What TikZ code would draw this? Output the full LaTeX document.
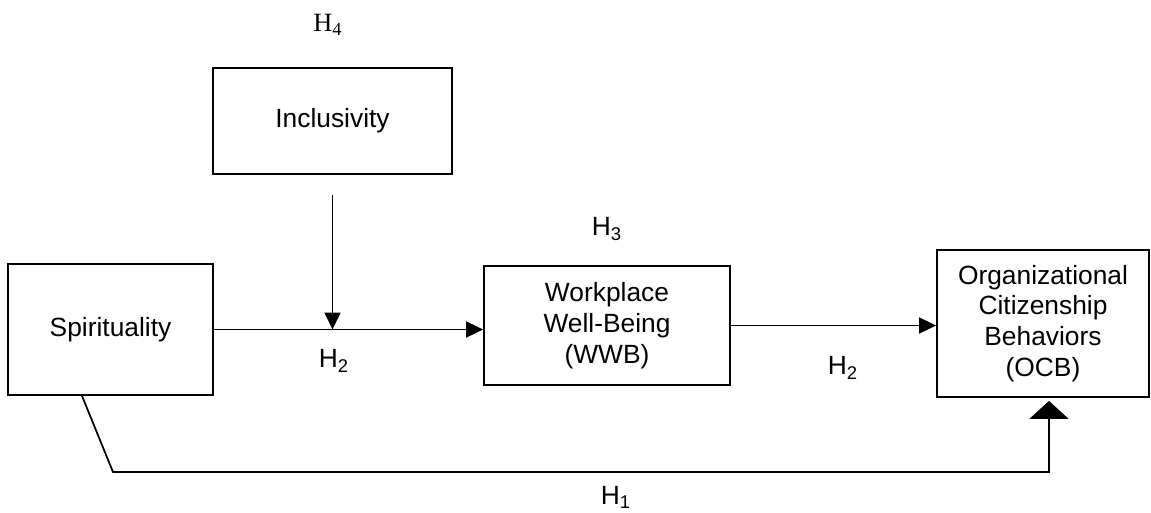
\documentclass[tikz,border=0pt]{standalone}
\usepackage{fontspec}
\setmainfont{Liberation Sans}
\newfontfamily\hfourfont{Liberation Serif}
\usepackage{tikz}
\usetikzlibrary{arrows.meta,positioning,calc}

\begin{document}
\begin{tikzpicture}[
  construct/.style={draw, line width=1pt, align=center,
                    font=\fontsize{15}{17.5}\selectfont, inner sep=2pt},
  arrow/.style={-{Triangle[length=3.4mm, width=3.2mm]}, line width=1pt},
  bigarrow/.style={-{Triangle[length=3.6mm, width=7.8mm]}, line width=1pt},
  hyp/.style={font=\fontsize{15}{17.5}\selectfont, inner sep=0pt},
]
\useasboundingbox (0,0) rectangle (23.02,-10.24);

\node[construct, minimum width=4.1cm, minimum height=2.62cm] (spirit) at (2.21,-6.59)
  {Spirituality};
\node[construct, minimum width=4.78cm, minimum height=2.12cm] (inclus) at (6.65,-2.42)
  {Inclusivity};
\node[construct, minimum width=4.92cm, minimum height=2.38cm] (wwb) at (12.14,-6.51)
  {Workplace\\Well-Being\\(WWB)};
\node[construct, minimum width=4.24cm, minimum height=2.94cm] (ocb) at (20.86,-6.47)
  {Organizational\\Citizenship\\Behaviors\\ (OCB)};

% moderation point and bend of the direct path
\coordinate (mod) at (spirit.east -| inclus.south);
\coordinate (bend) at (2.26,-9.44);

\draw[arrow] (spirit.east) -- (spirit.east -| wwb.west);
\draw[arrow, shorten <=4mm] (inclus.south) -- (mod);
\draw[arrow] (wwb.east) -- (wwb.east -| ocb.west);
\draw[bigarrow] ([xshift=-0.57cm]spirit.south) -- (bend)
  -| ([xshift=0.12cm, yshift=-0.06cm]ocb.south);

\node[hyp, font=\hfourfont\fontsize{15}{17.5}\selectfont] (h4) at (6.56,-0.5) {H\textsubscript{4}};
\node[hyp] (h3) at (12.14,-4.58) {H\textsubscript{3}};
\node[hyp] (h2a) at (6.68,-7.22) {H\textsubscript{2}};
\node[hyp] (h2b) at (16.86,-7.36) {H\textsubscript{2}};
\node[hyp] (h1) at (12.32,-9.94) {H\textsubscript{1}};
\end{tikzpicture}
\end{document}
